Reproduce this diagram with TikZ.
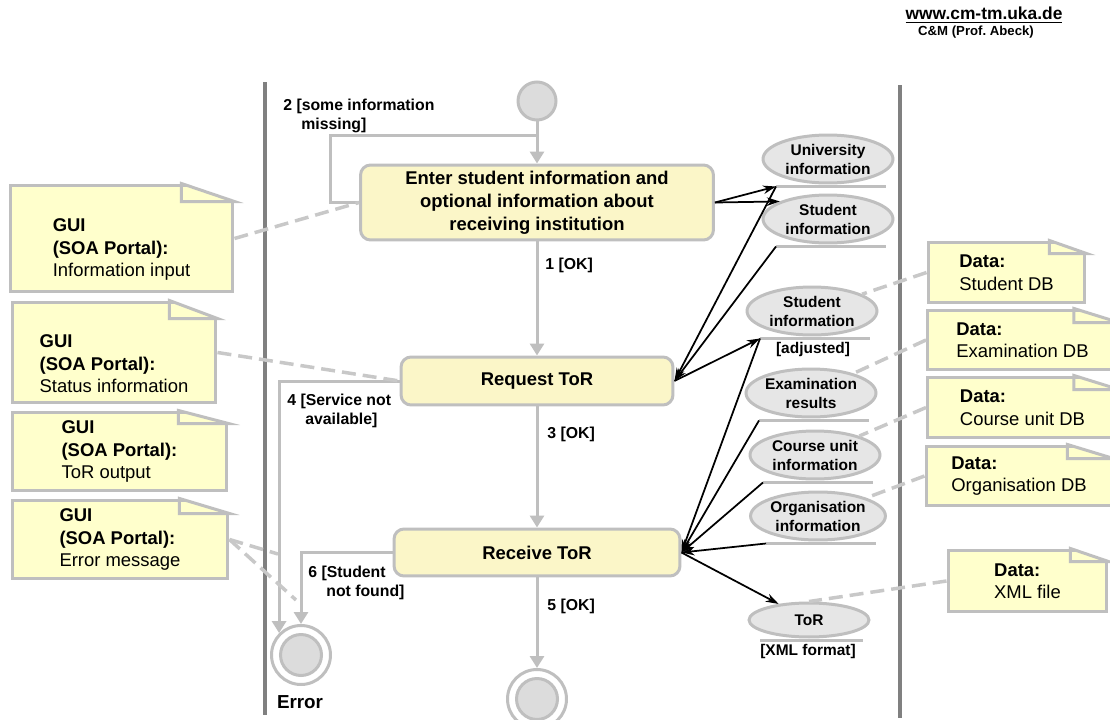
\documentclass[tikz,border=0pt]{standalone}
\usepackage{fontspec}
\setmainfont{Liberation Sans}
\usetikzlibrary{positioning, arrows.meta, shapes.geometric}
\definecolor{mLine}{HTML}{BFBFBF}
\definecolor{mLane}{HTML}{808080}
\definecolor{mNote}{HTML}{FFFFCC}
\definecolor{mAct}{HTML}{FBF6C8}
\definecolor{mObj}{HTML}{E6E6E6}
\definecolor{mState}{HTML}{DCDCDC}
\definecolor{mDash}{HTML}{C8C8C8}

% folded corner of a note: node, fold width, fold height
\newcommand{\dogear}[3]{%
  \fill[white] ([xshift=-#2]#1.north east) -- ++(0,2pt) -- ([shift={(2pt,2pt)}]#1.north east)
    -- ([xshift=2pt,yshift=-#3]#1.north east) -- ([yshift=-#3]#1.north east) -- cycle;
  \draw[mLine, line width=0.06cm] ([xshift=-#2]#1.north east) -- ([yshift=-#3]#1.north east)
    -- ([xshift=-#2,yshift=-#3]#1.north east) -- cycle;
}
\newcommand{\notepad}{\rule{0pt}{0.71cm}}

\begin{document}
\begin{tikzpicture}[
  x=0.02cm, y=-0.02cm,
  action/.style={rectangle, rounded corners=0.2cm, draw=mLine, line width=0.06cm, fill=mAct,
                 align=center, font=\bfseries\fontsize{10.5}{13}\selectfont},
  note/.style={rectangle, draw=mLine, line width=0.06cm, fill=mNote, inner sep=0pt,
               align=left, font=\fontsize{10.5}{12.8}\selectfont},
  object/.style={ellipse, draw=mLine, line width=0.06cm, fill=mObj, inner sep=0pt,
                 minimum width=2.6cm, minimum height=0.96cm, align=center,
                 font=\bfseries\fontsize{8.8}{10.8}\selectfont},
  objline/.style={draw=mLine, line width=0.06cm},
  guard/.style={inner sep=0pt, align=left, font=\bfseries\fontsize{9}{10.5}\selectfont},
  startstate/.style={circle, draw=mLine, line width=0.06cm, fill=mState, minimum size=0.76cm, inner sep=0pt},
  endstate/.style={circle, draw=mLine, line width=0.06cm, fill=white, minimum size=1.18cm, inner sep=0pt,
                   path picture={\fill[mState, draw=mLine, line width=0.06cm]
                                 (path picture bounding box.center) circle (0.41cm);}},
  flowline/.style={draw=mLine, line width=0.06cm},
  flow/.style={flowline, -{Triangle[length=0.24cm, width=0.28cm]}},
  dflow/.style={mDash, line width=0.07cm, dash pattern=on 0.28cm off 0.14cm},
  data/.style={black, line width=0.035cm, -{Stealth[length=0.26cm, width=0.17cm]}},
  lane/.style={mLane, line width=0.07cm},
]
  \useasboundingbox (0,0) rectangle (1110,720);

  % Header
  \node[font=\bfseries\fontsize{9.9}{12}\selectfont] (site) at (984,15) {\underline{www.cm-tm.uka.de}};
  \node[font=\bfseries\fontsize{7.5}{9}\selectfont] (chair) at (976,32) {C\&M (Prof.\ Abeck)};

  % Swimlanes
  \draw[lane] (265,82) -- (265,715);
  \draw[lane] (900,85) -- (900,718);

  % Activity nodes
  \node[startstate] (start) at (537,101) {};
  \node[action, minimum width=7.06cm, minimum height=1.5cm] (act1) at (537,202.5)
    {Enter student information and\\optional information about\\receiving institution};
  \node[action, minimum width=5.44cm, minimum height=0.96cm] (req) at (537,381) {Request ToR};
  \node[action, minimum width=5.72cm, minimum height=0.94cm] (recv) at (537,552.5) {Receive ToR};
  \node[endstate] (fin) at (537,699) {};
  \node[endstate] (err) at (301,655) {};
  \node[font=\bfseries\fontsize{10.7}{12}\selectfont] (errlbl) at (300,702) {Error};
  \coordinate (merge) at (537,135);

  % Control flow
  \draw[flow] (start) -- (act1);
  \draw[flowline] (act1.west) -- ++(-29,0) |- (merge);
  \draw[flow] (act1) -- (req);
  \draw[flow] (req) -- (recv);
  \draw[flow] (recv) -- (fin);
  \draw[flow] (req.west) -| (err.north west);
  \draw[flow] (recv.west) -| (err.north);

  % Guards
  \node[guard, anchor=north west] (lbl2) at (283,99) {2 [some information\\\hspace*{0.36cm}missing]};
  \node[guard, anchor=west] (lbl1) at (545,265) {1 [OK]};
  \node[guard, anchor=north west] (lbl4) at (287,394) {4 [Service not\\\hspace*{0.36cm}available]};
  \node[guard, anchor=west] (lbl3) at (547,434) {3 [OK]};
  \node[guard, anchor=north west] (lbl6) at (308,566) {6 [Student\\\hspace*{0.36cm}not found]};
  \node[guard, anchor=west] (lbl5) at (547,606) {5 [OK]};

  % Object nodes
  \node[object] (uni) at (828,159) {University\\information};
  \node[object] (stu) at (828,219) {Student\\information};
  \node[object] (adj) at (812,311) {Student\\information};
  \node[object] (exa) at (811,393) {Examination\\results};
  \node[object] (cou) at (815,455) {Course unit\\information};
  \node[object] (org) at (818,516) {Organisation\\information};
  \node[object, minimum width=2.4cm, minimum height=0.68cm] (tor) at (809,620) {ToR};
  \foreach \o in {uni,stu,adj,exa,cou,org} {
    \coordinate (\o-l) at ([shift={(-52,2)}]\o.south);
    \draw[objline] (\o-l) -- ++(110,0);
  }
  \coordinate (tor-l) at ([shift={(-49,2)}]tor.south);
  \draw[objline] (tor-l) -- ++(103,0);
  \node[font=\bfseries\fontsize{8.8}{10}\selectfont] (adjlbl) at (813,349) {[adjusted]};
  \node[font=\bfseries\fontsize{8.8}{10}\selectfont] (xmllbl) at (808,651) {[XML format]};

  % Object flow
  \draw[data] (act1.east) -- (uni-l);
  \draw[data] (act1.east) -- (stu.160);
  \draw[data] (uni-l) -- (req.east);
  \draw[data] (stu-l) -- (req.east);
  \draw[data] (req.east) -- (adj-l);
  \draw[data] (adj-l) -- (recv.east);
  \draw[data] (exa-l) -- (recv.east);
  \draw[data] (cou-l) -- (recv.east);
  \draw[data] (org-l) -- (recv.east);
  \draw[data] (recv.east) -- (tor);

  % GUI notes
  \node[note, minimum width=4.46cm, minimum height=2.14cm] (gin) at (121.5,238.5)
    {\notepad\textbf{GUI}\\\textbf{(SOA Portal):}\\Information input};
  \dogear{gin}{1.06cm}{0.36cm}
  \node[note, minimum width=4.08cm, minimum height=2.02cm] (gst) at (114,352.5)
    {\notepad\textbf{GUI}\\\textbf{(SOA Portal):}\\Status information};
  \dogear{gst}{0.96cm}{0.36cm}
  \node[note, minimum width=4.3cm, minimum height=1.58cm] (gout) at (119.5,451.5)
    {\textbf{GUI}\\\textbf{(SOA Portal):}\\ToR output};
  \dogear{gout}{1cm}{0.26cm}
  \node[note, minimum width=4.32cm, minimum height=1.58cm] (gerr) at (120,539.5)
    {\textbf{GUI}\\\textbf{(SOA Portal):}\\Error message};
  \dogear{gerr}{1cm}{0.3cm}

  % Data notes
  \node[note, minimum width=3.14cm, minimum height=1.22cm] (sdb) at (1006.5,272.5) {\textbf{Data:}\\Student DB};
  \dogear{sdb}{0.74cm}{0.26cm}
  \node[note, minimum width=3.8cm, minimum height=1.2cm] (edb) at (1022.5,340) {\textbf{Data:}\\Examination DB};
  \dogear{edb}{0.9cm}{0.28cm}
  \node[note, minimum width=3.8cm, minimum height=1.22cm] (cdb) at (1022.5,407.5) {\textbf{Data:}\\Course unit DB};
  \dogear{cdb}{0.9cm}{0.28cm}
  \node[note, minimum width=3.72cm, minimum height=1.2cm] (odb) at (1019,476) {\textbf{Data:}\\Organisation DB};
  \dogear{odb}{0.92cm}{0.28cm}
  \node[note, minimum width=3.18cm, minimum height=1.24cm] (xdb) at (1027.5,581) {\textbf{Data:}\\XML file};
  \dogear{xdb}{0.76cm}{0.26cm}

  % Note anchors
  \coordinate (e4) at (278,554);
  \coordinate (e6) at (296,600);
  \draw[dflow] (gin.east) -- (act1.west);
  \draw[dflow] (gst.east) -- (req.west);
  \draw[dflow] (gerr.east) -- (e4);
  \draw[dflow] (gerr.east) -- (e6);
  \draw[dflow] (sdb.west) -- (adj);
  \draw[dflow] (edb.west) -- (exa);
  \draw[dflow] (cdb.west) -- (cou);
  \draw[dflow] (odb.west) -- (org);
  \draw[dflow] (xdb.west) -- (tor.north);
\end{tikzpicture}
\end{document}
